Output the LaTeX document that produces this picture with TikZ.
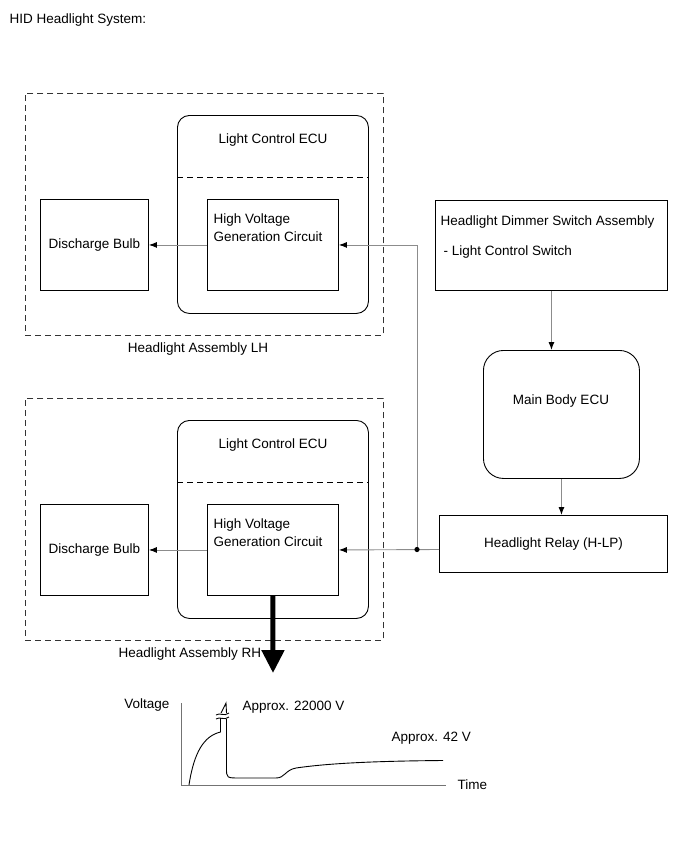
\documentclass[tikz,border=0pt]{standalone}
\usepackage{fontspec}
\setmainfont{Liberation Sans}
\usetikzlibrary{arrows.meta,positioning}
\tikzset{every node/.style={font=\fontsize{13.5}{18}\selectfont},
    box/.style={draw,line width=0.9pt,anchor=north west},
    ecu/.style={box,rounded corners=12pt},
    assy/.style={draw=black!80,line width=0.9pt,dash pattern=on 6pt off 4pt,anchor=north west},
    divider/.style={line width=0.9pt,dash pattern=on 6pt off 4pt},
    conn/.style={draw=black!45,line width=0.9pt,-{Latex[length=8pt,width=6pt,black]}},
    wire/.style={draw=black!45,line width=0.9pt},
    axis/.style={draw=black!55,line width=0.9pt},
    curve/.style={line width=0.9pt},
    }
\begin{document}
\begin{tikzpicture}[x=1pt,y=-1pt]
\useasboundingbox (0,0) rectangle (691,855);
\node[anchor=west] (title) at (6,20) {HID Headlight System:};
\foreach \s/\y/\t/\lx in {L/0/LH/198,R/305/RH/190}{
    \node[assy,minimum width=358pt,minimum height=242pt] (assy\s) at (25,93+\y) {};
    \node (assy\s lbl) at (\lx,349+\y) {Headlight Assembly \t};
    \node[ecu,minimum width=191pt,minimum height=198pt] (ecu\s) at (177,115+\y) {};
    \draw[divider] ([yshift=-62pt]ecu\s.north west) -- ([yshift=-62pt]ecu\s.north east);
    \node (lce\s) at (273,140+\y) {Light Control ECU};
    \node[box,minimum width=131pt,minimum height=91pt] (hv\s) at (207,199+\y) {};
    \node[align=left,anchor=north west] (hv\s txt) at (210,210+\y) {High Voltage\\Generation Circuit};
    \node[box,minimum width=108pt,minimum height=91pt] (bulb\s) at (40,199+\y) {};
    \node (bulb\s txt) at (bulb\s) {Discharge Bulb};
    \draw[conn] (hv\s.west) -- (bulb\s.east);
}
\node[box,minimum width=232pt,minimum height=90pt] (dimmer) at (435,200) {};
\node[align=left,anchor=north west] (dimtxt) at (437,212) {Headlight Dimmer Switch Assembly\\[12pt]\hspace{3pt}- Light Control Switch};
\node[box,rounded corners=20pt,minimum width=156pt,minimum height=128pt] (mbecu) at (483,350) {};
\node (mbtxt) at (561,401) {Main Body ECU};
\node[box,minimum width=228pt,minimum height=57pt] (relay) at (439,515) {Headlight Relay (H-LP)};
\draw[conn] (dimmer.south) -- (dimmer.south |- mbecu.north);
\draw[conn] (mbecu.south) -- (mbecu.south |- relay.north);
\coordinate (jn) at (417,549.5);
\draw[conn] (jn -| relay.west) -- (hvR.east);
\draw[conn] (jn) |- (hvL.east);
\fill (jn) circle (2.6pt);
\coordinate (bigtip) at (273,673);
\draw[line width=5pt,-{Triangle[length=23pt,width=22pt]}] (hvR.south) -- (bigtip);
\coordinate (ytop) at (181,703);
\coordinate (origin) at (181,785);
\coordinate (xend) at (446,785);
\draw[axis] (ytop) -- (origin) -- (xend);
\node[anchor=east] (vlbl) at (173,705) {Voltage};
\node[anchor=west] (tlbl) at (454,785) {Time};
\node[anchor=west] (hivlbl) at (239,707) {Approx. 22000 V};
\node[anchor=west] (lovlbl) at (388,738) {Approx. 42 V};
\draw[curve] (189,785) .. controls (194,752) and (204,736) .. (220.5,732) -- (220.5,718);
\draw[curve] (216,715) .. controls (220,712) and (224,717) .. (229,713);
\draw[curve] (216,719) .. controls (220,716) and (224,721) .. (229,717);
\draw[curve] (221,713) -- (226,703) -- (226.5,713);
\draw[curve] (226.5,719) -- (226.5,768) .. controls (226.5,778) .. (240,778) -- (276,778)
    .. controls (285,778) and (285,770) .. (296,768) .. controls (330,763) and (380,761) .. (443,760.5);
\end{tikzpicture}
\end{document}
